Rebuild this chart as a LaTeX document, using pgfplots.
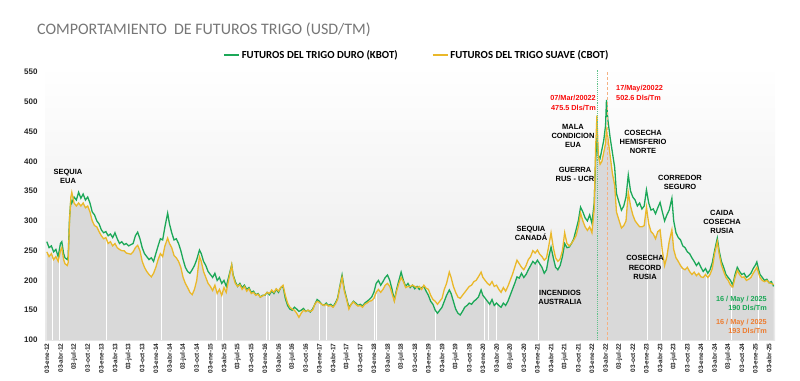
\documentclass[border=0pt]{standalone}
\usepackage{pgfplots}
\pgfplotsset{compat=1.18}
\usepackage{pgfplotstable}
\usepackage{fontspec}
\setmainfont{Liberation Sans}
\newfontfamily\carlito{Carlito}
\definecolor{kgreen}{RGB}{28,168,88}
\definecolor{cyellow}{RGB}{234,184,42}
\definecolor{areagray}{RGB}{217,217,217}
\definecolor{titlegray}{RGB}{118,118,118}
\definecolor{endorange}{RGB}{237,125,49}
\definecolor{annred}{RGB}{250,10,10}
\pgfplotstableread{
m k c n
0 265 248 248
0.5 255 240 240
1 258 245 245
1.5 248 235 235
2 252 240 240
2.5 240 232 232
3 262 250 250
3.3 265 255 255
3.7 245 235 235
4 238 228 228
4.5 235 225 225
4.7 240 230 230
5 305 300 300
5.3 335 340 335
5.5 330 348 330
6 340 330 330
6.5 335 325 325
7 348 330 330
7.5 338 325 325
8 345 330 330
8.5 335 322 322
9 340 325 325
9.5 330 315 315
10 315 300 300
10.5 310 292 292
11 300 290 290
11.5 295 282 282
12 285 275 275
12.5 280 270 270
13 282 272 272
13.5 275 262 262
14 278 265 265
14.5 272 258 258
15 280 262 262
15.5 270 255 255
16 262 252 252
16.5 265 250 250
17 260 250 250
17.5 262 246 246
18 258 245 245
18.5 260 244 244
19 262 248 248
19.5 275 255 255
20 281 259 259
20.5 270 250 250
21 255 232 232
21.5 245 222 222
22 240 215 215
22.5 235 210 210
23 238 206 206
23.5 232 212 212
24 245 222 222
24.5 258 235 235
25 270 245 245
25.5 268 240 240
26 290 258 258
26.6 313 271 271
27 295 262 262
27.5 280 255 255
28 268 242 242
28.5 270 238 238
29 262 232 232
29.5 250 222 222
30 235 205 205
30.5 222 195 195
31 215 188 188
31.5 212 180 180
32 218 176 176
32.5 225 185 185
33 235 200 200
33.6 251 240 240
34 245 232 232
34.5 232 215 215
35 225 205 205
35.5 215 195 195
36 210 190 190
36.5 205 183 183
37 212 192 192
37.5 200 178 178
38 205 185 185
38.5 195 175 175
39 200 188 188
39.5 190 180 180
40 205 200 200
40.7 226 226 226
41 210 208 208
41.5 198 195 195
42 190 190 190
42.5 195 193 193
43 188 185 185
43.5 192 190 190
44 185 182 182
44.5 188 186 186
45 180 178 178
45.5 182 180 180
46 176 175 175
46.5 178 177 177
47 172 172 172
47.5 175 174 174
48 175 176 175
48.5 180 180 180
49 176 178 176
49.5 182 184 182
50 178 180 178
50.5 185 186 185
51 180 182 180
51.5 188 188 188
52 190 192 190
52.5 170 175 170
53 158 162 158
53.5 152 155 152
54 150 152 150
54.5 155 150 150
55 152 145 145
55.5 148 138 138
56 150 145 145
56.5 153 150 150
57 148 148 148
57.5 150 150 150
58 147 148 147
58.5 152 150 150
59 160 160 160
59.5 168 165 165
60 165 163 163
60.5 160 160 160
61 158 158 158
61.5 162 160 160
62 158 157 157
62.5 160 158 158
63 156 155 155
63.5 162 160 160
64 170 168 168
64.5 190 188 188
65 209 205 205
65.5 185 182 182
66 170 168 168
66.5 155 152 152
67 160 160 160
67.5 165 164 164
68 162 160 160
68.5 158 157 157
69 160 158 158
69.5 157 155 155
70 162 160 160
70.5 165 162 162
71 168 165 165
71.5 172 166 166
72 180 170 170
72.5 195 180 180
73 200 185 185
73.5 192 180 180
74 198 185 185
74.5 205 192 192
75 209 195 195
75.5 200 190 190
76 185 178 178
76.5 167 165 165
77 185 182 182
77.5 200 195 195
78 214 205 205
78.5 200 198 198
79 190 188 188
79.5 195 190 190
80 188 190 188
80.5 192 192 192
81 186 190 186
81.5 190 188 188
82 185 190 185
82.5 188 185 185
83 190 192 190
83.5 182 187 182
84 175 185 175
84.5 165 175 165
85 160 168 160
85.5 150 165 150
86 145 160 145
86.5 150 165 150
87 155 170 155
87.5 165 185 165
88 175 195 175
88.6 184 214 184
89 178 205 178
89.5 165 190 165
90 152 180 152
90.5 145 172 145
91 142 170 142
91.5 148 175 148
92 155 180 155
92.5 158 185 158
93 162 190 162
93.5 160 192 160
94 165 198 165
94.5 168 200 168
95 172 206 172
95.6 184 214 184
96 175 205 175
96.5 170 200 170
97 165 195 165
97.5 160 192 160
98 168 198 168
98.5 158 190 158
99 162 192 162
99.5 158 185 158
100 155 180 155
100.5 162 188 162
101 158 182 158
101.5 165 190 165
102 175 200 175
102.5 185 210 185
103 195 222 195
103.5 206 234 206
104 204 228 204
104.5 212 222 212
105 205 218 205
105.5 210 225 210
106 218 235 218
106.5 225 240 225
107 232 250 232
107.5 228 246 228
108 234 251 234
108.5 228 244 228
109 222 240 222
109.5 212 234 212
110 218 238 218
110.5 240 258 240
111 256 280 256
111.5 238 255 238
112 222 238 222
112.5 218 232 218
113 225 236 225
113.5 240 250 240
114 262 280 262
114.5 255 262 255
115 256 258 256
115.5 262 262 262
116 270 268 268
116.5 285 275 275
117 300 290 290
117.5 323 313 313
118 315 300 300
118.5 305 290 290
119 300 284 284
119.5 310 290 290
120 296 280 280
120.5 330 320 320
120.8 400 420 400
121.1 440 477 440
121.4 410 410 410
121.8 405 395 395
122.2 420 400 400
122.6 435 415 415
123 460 430 430
123.2 503 452 452
123.5 470 440 440
124 440 410 410
124.5 415 380 380
125 390 360 360
125.4 346 315 315
126 330 300 300
126.5 318 288 288
127 325 292 292
127.5 340 300 300
128 377 348 348
128.5 350 325 325
129 340 310 310
129.5 335 300 300
130 325 295 295
130.5 330 290 290
131 320 290 290
131.5 325 292 292
132 352 323 323
132.5 330 295 295
133 318 282 282
133.5 320 278 278
134 312 270 270
134.5 322 282 282
135 331 285 285
135.5 315 250 250
136 300 225 225
136.5 310 240 240
137 318 265 265
137.6 338 285 285
138 300 252 252
138.5 280 238 238
139 272 232 232
139.5 268 225 225
140 258 220 220
140.5 255 218 218
141 248 222 222
141.5 245 215 215
142 238 210 210
142.5 232 214 214
143 225 208 208
143.5 230 212 212
144 222 206 206
144.5 215 205 205
145 220 210 210
145.5 212 205 205
146 218 210 210
146.5 230 220 220
147 250 245 245
147.6 271 265 265
148 250 245 245
148.5 232 226 226
149 222 215 215
149.5 210 205 205
150 205 200 200
150.5 200 192 192
151 192 189 189
151.5 210 205 205
152 222 217 217
152.5 215 210 210
153 210 205 205
153.5 212 206 206
154 205 200 200
154.5 208 202 202
155 212 205 205
155.5 220 212 212
156 226 218 218
156.3 231 222 222
156.7 218 212 212
157 210 205 205
157.5 205 200 200
158 200 198 198
158.5 202 200 200
159 196 196 196
159.5 198 195 195
160 190 193 190
}\wheat
\pgfplotstableread{
m n
1.25 236
2.86 244
13.1 268
25.2 242
37.3 184
38.7 176
48.4 177
49.0 175
60.0 160
61.6 157
72.1 169
72.6 177
85.5 149
96.3 171
97.2 161
99.0 160
108.2 229
132.2 305
135.3 262
139.7 219
145.2 206
145.8 205
150.8 188
156.7 210
}\gaps
\begin{document}
\begin{tikzpicture}[x=1pt,y=1pt]
\useasboundingbox (0,0) rectangle (800,380);
\node[anchor=west, inner sep=0pt, font=\carlito\fontsize{16}{18}\selectfont, text=titlegray] at (37,350) {COMPORTAMIENTO\ \ DE FUTUROS TRIGO (USD/TM)};
\begin{axis}[
  at={(45pt,40pt)}, anchor=south west,
  scale only axis, width=730pt, height=274pt,
  xmin=-0.4, xmax=160.3, ymin=100, ymax=560,
  ytick={100,150,...,550},
  xtick={0,3,...,159},
  xticklabels={03-ene-12,03-abr-12,03-jul-12,03-oct-12,03-ene-13,03-abr-13,03-jul-13,03-oct-13,03-ene-14,03-abr-14,03-jul-14,03-oct-14,03-ene-15,03-abr-15,03-jul-15,03-oct-15,03-ene-16,03-abr-16,03-jul-16,03-oct-16,03-ene-17,03-abr-17,03-jul-17,03-oct-17,03-ene-18,03-abr-18,03-jul-18,03-oct-18,03-ene-19,03-abr-19,03-jul-19,03-oct-19,03-ene-20,03-abr-20,03-jul-20,03-oct-20,03-ene-21,03-abr-21,03-jul-21,03-oct-21,03-ene-22,03-abr-22,03-jul-22,03-oct-22,03-ene-23,03-abr-23,03-jul-23,03-oct-23,03-ene-24,03-abr-24,03-jul-24,03-oct-24,03-ene-25,03-abr-25},
  x tick label style={rotate=90, anchor=east, font=\fontsize{6.5}{7}\selectfont\bfseries, text=black!85},
  y tick label style={font=\fontsize{8}{9}\selectfont\bfseries, text=black!85, xshift=-4pt},
  /pgf/number format/assume math mode=true,
  axis line style={draw=none},
  major tick length=0pt,
  axis background/.style={top color=white, bottom color=black!9},
  legend columns=2,
  legend style={at={(0.2397,1.04)}, anchor=west, draw=none, fill=none,
    font=\carlito\bfseries\fontsize{10.8}{12}\selectfont,
    /tikz/every even column/.append style={column sep=32pt}},
  legend image code/.code={\draw[#1, line width=1.6pt] (0pt,0pt) -- (15pt,0pt);},
]
\addplot[fill=areagray, draw=none, forget plot] table[x=m,y=n]{\wheat} \closedcycle;
\addplot[white, ycomb, line width=0.9pt, forget plot] table[x=m,y=n]{\gaps};
\addplot[kgreen, line width=1.3pt] table[x=m,y=k]{\wheat};
\addlegendentry{FUTUROS DEL TRIGO DURO (KBOT)}
\addplot[cyellow, line width=1.3pt] table[x=m,y=c]{\wheat};
\addlegendentry{FUTUROS DEL TRIGO SUAVE (CBOT)}
\addplot[kgreen!70, densely dotted, line width=0.9pt, forget plot] coordinates {(121.2,100) (121.2,553)};
\addplot[endorange!60, densely dashed, line width=0.6pt, forget plot] coordinates {(123.4,100) (123.4,553)};
\end{axis}
\begin{scope}[every node/.style={font=\bfseries\fontsize{7.5}{9.2}\selectfont, align=center, inner sep=0pt}]
\node at (68,203.5) {SEQUIA\\EUA};
\node at (573,244) {MALA\\CONDICION\\EUA};
\node at (575,205.5) {GUERRA\\RUS - UCR};
\node at (643,238) {COSECHA\\HEMISFERIO\\NORTE};
\node at (680,197.5) {CORREDOR\\SEGURO};
\node at (722,158) {CAIDA\\COSECHA\\RUSIA};
\node at (645,112.5) {COSECHA\\RECORD\\RUSIA};
\node at (531,146.5) {SEQUIA\\CANADÁ};
\node at (560,82.5) {INCENDIOS\\AUSTRALIA};
\node[anchor=east, align=right, text=annred, font=\bfseries\fontsize{7.3}{10}\selectfont] at (596,277) {07/Mar/20022\\475.5 Dls/Tm};
\node[anchor=west, align=left, text=annred, font=\bfseries\fontsize{7.3}{10}\selectfont] at (616,287) {17/May/20022\\502.6 Dls/Tm};
\node[anchor=east, align=right, text=kgreen, font=\bfseries\fontsize{7.3}{9}\selectfont] at (767,76.5) {16 / May / 2025\\190 Dls/Tm};
\node[anchor=east, align=right, text=endorange, font=\bfseries\fontsize{7.3}{9}\selectfont] at (767,54) {16 / May / 2025\\193 Dls/Tm};
\end{scope}
\end{tikzpicture}
\end{document}
